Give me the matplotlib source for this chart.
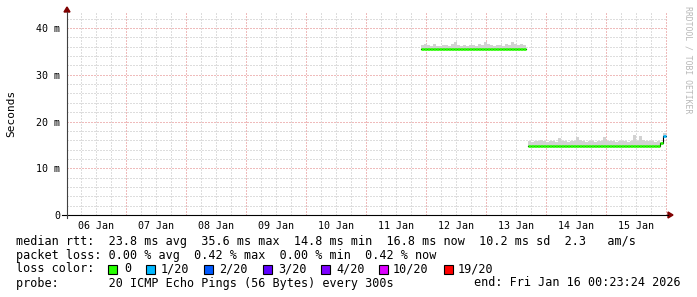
import numpy as np
import matplotlib.pyplot as plt
from matplotlib.patches import Rectangle, Polygon

# time in days since 06 Jan 00:00, values in ms
step = 0.05
seg1_start = 5.92
seg1_median = [35.5] * 35
seg1_smoke = [36.4, 36.6, 36.3, 36.2, 36.5, 36.2, 36.1, 36.3, 36.4, 36.2,
              36.5, 37.0, 36.4, 36.2, 36.3, 36.2, 36.4, 36.3, 36.2, 36.5,
              36.3, 37.0, 36.6, 36.3, 36.2, 36.4, 36.3, 36.2, 36.5, 36.3,
              37.1, 36.6, 36.3, 36.5, 36.4]
seg1_loss = [0] * 35

seg2_start = 7.70
seg2_median = [14.8] * 44 + [15.3, 16.8]
seg2_smoke = [15.9, 15.7, 15.8, 15.8, 16.0, 15.8, 15.7, 15.8, 15.8, 15.7,
              16.4, 15.9, 15.8, 15.7, 15.8, 15.8, 16.7, 16.0, 15.8, 15.7,
              15.8, 15.8, 15.7, 15.9, 15.8, 16.6, 15.9, 15.8, 15.8, 15.7,
              15.8, 15.9, 15.8, 15.7, 15.8, 17.1, 15.9, 17.0, 16.1, 15.8,
              15.9, 15.8, 15.7, 15.8, 15.6, 17.5]
seg2_loss = [0] * 45 + [1]

day_labels = ['06 Jan', '07 Jan', '08 Jan', '09 Jan', '10 Jan',
              '11 Jan', '12 Jan', '13 Jan', '14 Jan', '15 Jan']
loss_labels = ['0', '1/20', '2/20', '3/20', '4/20', '10/20', '19/20']
loss_colors = ['#26ff00', '#00b8ff', '#0059ff', '#5e00ff', '#7e00ff', '#dd00ff', '#ff0000']

W, H = 697, 297
mono = 'DejaVu Sans Mono'

fig = plt.figure(figsize=(W / 100, H / 100), dpi=100)
fig.patch.set_facecolor('white')
ax = fig.add_axes([67 / W, (H - 215) / H, 600 / W, (215 - 13) / H])
ax.set_xlim(0.016, 10.016)
ax.set_ylim(0, 202 / 4.675)
for s in ax.spines.values():
    s.set_visible(False)

# grid
dot = (0, (1, 2))
grid_kw = dict(lw=0.72, ls=dot, zorder=0)
for d in np.arange(0.25, 10.01, 0.25):
    if abs(d - round(d)) > 1e-6:
        ax.axvline(d, color='#bdbdbd', **grid_kw)
for v in np.arange(2, 44, 2):
    if v % 10:
        ax.axhline(v, color='#bdbdbd', **grid_kw)
for d in range(1, 11):
    ax.axvline(d, color='#e07878', **grid_kw)
for v in [10, 20, 30, 40]:
    ax.axhline(v, color='#e07878', **grid_kw)

# data
for start, med, smoke, loss in [(seg1_start, seg1_median, seg1_smoke, seg1_loss),
                                (seg2_start, seg2_median, seg2_smoke, seg2_loss)]:
    n = len(med)
    t = start + step * np.arange(n + 1)
    m = np.array(med + [med[-1]])
    sm = np.array(smoke + [smoke[-1]])
    ax.fill_between(t, m, sm, step='post', color='#d2d2d2', lw=0, zorder=1)
    ax.step(t, m, where='post', color='black', lw=0.8, zorder=2)
    ax.hlines(med, t[:-1], t[1:], colors=[loss_colors[l] for l in loss],
              lw=1.9, zorder=3)

ax.set_yticks([0, 10, 20, 30, 40])
ax.set_yticklabels(['0', '10 m', '20 m', '30 m', '40 m'])
ax.set_xticks(np.arange(0.5, 10, 1))
ax.set_xticklabels(day_labels)
ax.tick_params(axis='y', length=0, pad=5, labelsize=7.2)
ax.tick_params(axis='x', length=0, pad=4, labelsize=7.2)
for lab in ax.get_xticklabels() + ax.get_yticklabels():
    lab.set_family(mono)

# axes lines and arrows
fig.add_artist(plt.Line2D([62 / W, 668 / W], [(H - 215) / H] * 2, color='black', lw=0.8))
fig.add_artist(plt.Line2D([67 / W] * 2, [(H - 218) / H, (H - 12) / H], color='#404040', lw=0.8))
fig.add_artist(Polygon([[668 / W, (H - 212) / H], [668 / W, (H - 218) / H], [673 / W, (H - 215) / H]],
                       closed=True, color='#7f0000', transform=fig.transFigure))
fig.add_artist(Polygon([[64 / W, (H - 12) / H], [70 / W, (H - 12) / H], [67 / W, (H - 7) / H]],
                       closed=True, color='#7f0000', transform=fig.transFigure))

fig.text(11 / W, 1 - 113 / H, 'Seconds', rotation=90, family=mono, fontsize=8,
         ha='center', va='center')
fig.text(688 / W, 1 - 60 / H, 'RRDTOOL / TOBI OETIKER', rotation=270, family=mono,
         fontsize=5.9, color='#b8b8b8', ha='center', va='center')

# legend
fs = 8.5
def put(x, y, s, **kw):
    fig.text(x / W, 1 - y / H, s, family=mono, fontsize=fs, va='center', **kw)

put(16, 241, 'median rtt:  23.8 ms avg  35.6 ms max  14.8 ms min  16.8 ms now  10.2 ms sd  2.3   am/s')
put(16, 255, 'packet loss: 0.00 % avg  0.42 % max  0.00 % min  0.42 % now')
put(16, 269, 'loss color:')
box_x = [108, 146, 204, 263, 321, 379, 444]
lab_x = [124, 161, 219, 278, 336, 393, 458]
for bx, lx, lab, col in zip(box_x, lab_x, loss_labels, loss_colors):
    fig.add_artist(Rectangle((bx / W, 1 - 274 / H), 9 / W, 9 / H, facecolor=col,
                             edgecolor='black', lw=0.8, transform=fig.transFigure))
    put(lx, 269, lab)
put(16, 283, 'probe:       20 ICMP Echo Pings (56 Bytes) every 300s')
put(681, 283, 'end: Fri Jan 16 00:23:24 2026', ha='right')

plt.savefig('out.png', dpi=100)
